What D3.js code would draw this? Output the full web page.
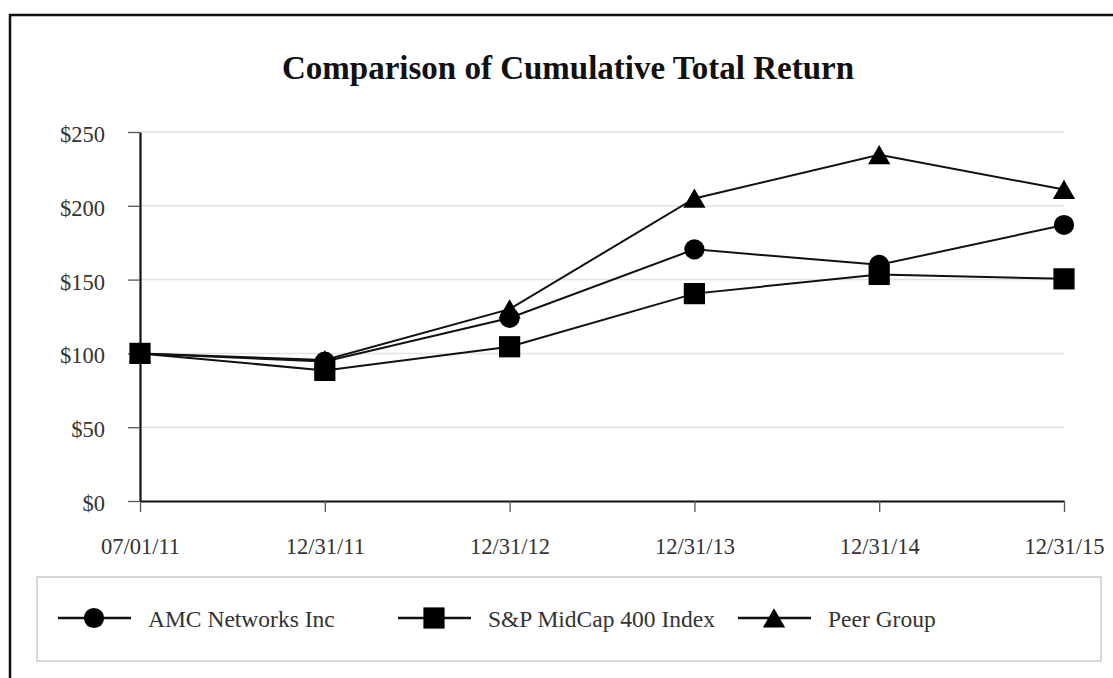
<!DOCTYPE html>
<html>
<head>
<meta charset="utf-8">
<script src="https://cdn.jsdelivr.net/npm/d3@7"></script>
<style>
  body { margin: 0; background: #fff; }
  svg { display: block; font-family: "Liberation Serif", "Times New Roman", serif; }
</style>
</head>
<body>
<svg width="1113" height="678"></svg>
<script>
const dates = ["07/01/11", "12/31/11", "12/31/12", "12/31/13", "12/31/14", "12/31/15"]
const yTicks = [0, 50, 100, 150, 200, 250]
const amc = [100, 94.5, 124, 170.5, 160, 187]
const midcap = [100, 88.5, 104.5, 140.5, 153.5, 150.5]
const peer = [100, 95.5, 130, 205, 234.5, 211]
const seriesNames = ["AMC Networks Inc", "S&P MidCap 400 Index", "Peer Group"]
const seriesSymbols = [d3.symbolCircle, d3.symbolSquare, d3.symbolTriangle]

const svg = d3.select("svg")

// outer frame, clipped at right and bottom like the scan
svg.append("path")
    .attr("d", "M10,690 L10,15 L1120,15")
    .attr("fill", "none")
    .attr("stroke", "#111")
    .attr("stroke-width", 2.5)

svg.append("text")
    .attr("x", 568).attr("y", 79)
    .attr("text-anchor", "middle")
    .attr("font-size", 33).attr("font-weight", "bold")
    .attr("fill", "#111")
    .text("Comparison of Cumulative Total Return")

const x = d3.scalePoint().domain(dates).range([140, 1064])
const y = d3.scaleLinear().domain([0, 250]).range([501, 132])

// gridlines
svg.append("g")
    .selectAll("line")
    .data(yTicks.slice(1))
    .join("line")
    .attr("x1", 140).attr("x2", 1064)
    .attr("y1", d => y(d)).attr("y2", d => y(d))
    .attr("stroke", "#e2e2e2").attr("stroke-width", 1.5)

const yAxis = svg.append("g")
    .attr("transform", "translate(140,0)")
    .call(d3.axisLeft(y).tickValues(yTicks).tickFormat(d => "$" + d).tickSizeInner(12).tickSizeOuter(0).tickPadding(23))
const xAxis = svg.append("g")
    .attr("transform", "translate(0,501)")
    .call(d3.axisBottom(x).tickSizeInner(11).tickSizeOuter(0).tickPadding(26))

for (const ax of [yAxis, xAxis]) {
    ax.attr("font-family", "Liberation Serif, serif").attr("font-size", 22.5)
    ax.select(".domain").attr("stroke", "#111").attr("stroke-width", 2.2)
    ax.selectAll(".tick line").attr("stroke", "#555").attr("stroke-width", 1.3)
    ax.selectAll(".tick text").attr("fill", "#333")
}
yAxis.selectAll(".tick text").attr("dy", "0.42em")

const line = d3.line().x((d, i) => x(dates[i])).y(d => y(d))
const allSeries = [amc, midcap, peer]
const symbolSizes = [320, 450, 215]
// triangles are centred on their box rather than their centroid
const symbolShift = [0, 0, 3]

allSeries.forEach(vals => {
    svg.append("path")
        .datum(vals)
        .attr("d", line)
        .attr("fill", "none")
        .attr("stroke", "#111")
        .attr("stroke-width", 2)
})
allSeries.forEach((vals, k) => {
    svg.append("g")
        .selectAll("path")
        .data(vals)
        .join("path")
        .attr("transform", (d, i) => `translate(${x(dates[i])},${y(d) + symbolShift[k]})`)
        .attr("d", d3.symbol().type(seriesSymbols[k]).size(symbolSizes[k]))
        .attr("fill", "#000")
})

// legend
svg.append("rect")
    .attr("x", 37).attr("y", 577)
    .attr("width", 1064).attr("height", 84)
    .attr("fill", "none").attr("stroke", "#ccc").attr("stroke-width", 1.5)

const legendX = [58, 398, 738]
const legend = svg.append("g")
    .selectAll("g")
    .data(seriesNames)
    .join("g")
    .attr("transform", (d, i) => `translate(${legendX[i]},618)`)

legend.append("line")
    .attr("x1", 0).attr("x2", 73)
    .attr("stroke", "#111").attr("stroke-width", 2.5)
legend.append("path")
    .attr("transform", (d, i) => `translate(36,${symbolShift[i]})`)
    .attr("d", (d, i) => d3.symbol().type(seriesSymbols[i]).size(symbolSizes[i])())
    .attr("fill", "#000")
legend.append("text")
    .attr("x", 90).attr("y", 9)
    .attr("font-size", 23.5).attr("fill", "#333")
    .text(d => d)
</script>
</body>
</html>
